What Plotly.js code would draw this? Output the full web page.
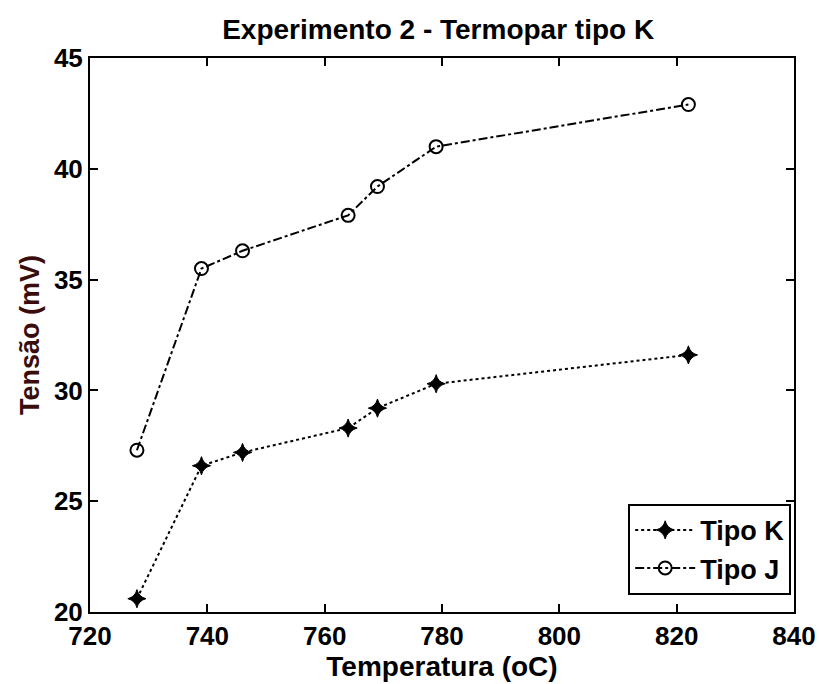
<!DOCTYPE html>
<html>
<head>
<meta charset="utf-8">
<script src="https://cdn.plot.ly/plotly-3.0.1.min.js"></script>
<style>html,body{margin:0;padding:0;background:#fff;}#chart{width:819px;height:684px;}</style>
</head>
<body>
<div id="chart"></div>
<script>
const temperatura = [728, 739, 746, 764, 769, 779, 822];
const tipoK = [20.6, 26.6, 27.2, 28.3, 29.2, 30.3, 31.6];
const tipoJ = [27.3, 35.5, 36.3, 37.9, 39.2, 41.0, 42.9];
const xTicks = [720, 740, 760, 780, 800, 820, 840];
const yTicks = [20, 25, 30, 35, 40, 45];

const F = 'Liberation Sans, Arial, Helvetica, sans-serif';

const traces = [
  {
    x: temperatura, y: tipoK, name: 'Tipo K', type: 'scatter', mode: 'lines+markers',
    line: {color: '#000', width: 2, dash: 'dot'},
    marker: {symbol: 'star-diamond', size: 13, color: '#000', line: {color: '#000', width: 1}}
  },
  {
    x: temperatura, y: tipoJ, name: 'Tipo J', type: 'scatter', mode: 'lines+markers',
    line: {color: '#000', width: 2, dash: 'dashdot'},
    marker: {symbol: 'circle-open', size: 13, color: '#000', line: {color: '#000', width: 2}}
  }
];

const axisCommon = {
  showgrid: false, zeroline: false, showline: true, linecolor: '#000', linewidth: 2,
  mirror: 'ticks', ticks: 'inside', ticklen: 8, tickwidth: 2, tickcolor: '#000',
  tickfont: {family: F, size: 26, color: '#000', weight: 'bold'}
};

const layout = {
  width: 819, height: 684,
  margin: {l: 90, r: 25, t: 58, b: 72},
  paper_bgcolor: '#fff', plot_bgcolor: '#fff',
  title: {text: 'Experimento 2 - Termopar tipo K', font: {family: F, size: 28, color: '#000', weight: 'bold'},
          x: 0.535, xanchor: 'center', y: 0.958, yanchor: 'middle'},
  xaxis: Object.assign({}, axisCommon, {
    range: [720, 840], tickvals: xTicks, ticktext: xTicks.map(String),
    title: {text: 'Temperatura (oC)', font: {family: F, size: 28, color: '#000', weight: 'bold'}, standoff: 4}
  }),
  yaxis: Object.assign({}, axisCommon, {
    range: [20, 45], tickvals: yTicks, ticktext: yTicks.map(String),
    title: {text: 'Tensão (mV)', font: {family: F, size: 27, color: '#3a0d0d', weight: 'bold'}, standoff: 6}
  }),
  showlegend: true,
  legend: {
    x: 0.996, y: 0.031, xanchor: 'right', yanchor: 'bottom',
    bgcolor: '#fff', bordercolor: '#000', borderwidth: 2,
    font: {family: F, size: 27, color: '#000', weight: 'bold'},
    itemwidth: 60, tracegroupgap: 0
  }
};

Plotly.newPlot('chart', traces, layout, {displayModeBar: false, staticPlot: true});
</script>
</body>
</html>
